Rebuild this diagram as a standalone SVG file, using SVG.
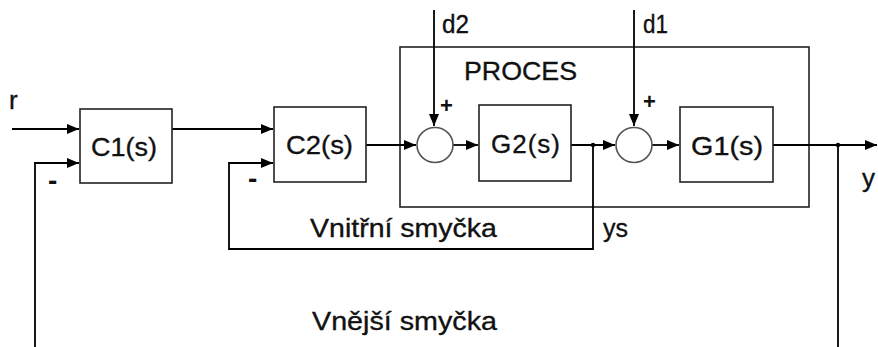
<svg xmlns="http://www.w3.org/2000/svg" width="878" height="347" viewBox="0 0 878 347">
<style>
text{font-family:"Liberation Sans",Arial,sans-serif;fill:#111;}
.lbl{font-size:26px;stroke:#111;stroke-width:0.35;}
.sign{font-size:22px;font-weight:bold;}
.blk{fill:#fff;stroke:#222;stroke-width:1.6;}
.sum{fill:#fff;stroke:#555;stroke-width:1.6;}
.ln{fill:none;stroke:#000;stroke-width:1.8;}
.arr{marker-end:url(#ah);}
</style>
<defs>
<marker id="ah" markerUnits="userSpaceOnUse" markerWidth="13" markerHeight="11" refX="12" refY="5" orient="auto">
<path d="M0,0 L12,5 L0,10 z" fill="#000"/>
</marker>
</defs>
<rect width="878" height="347" fill="#fff"/>

<g id="proces">
<rect x="400" y="47" width="409" height="160" fill="none" stroke="#222" stroke-width="1.6"/>
<text class="lbl" x="464" y="80" textLength="113" lengthAdjust="spacingAndGlyphs">PROCES</text>
</g>

<g id="connectors">
<path class="ln arr" d="M12,129 H79"/>
<path class="ln arr" d="M35,347 V163 H79"/>
<path class="ln arr" d="M172,129 H273"/>
<path class="ln arr" d="M593,145 V249 H229 V163 H273"/>
<path class="ln arr" d="M366,145 H416"/>
<path class="ln arr" d="M434,10 V126"/>
<path class="ln arr" d="M453,145 H478"/>
<path class="ln arr" d="M571,145 H615"/>
<path class="ln arr" d="M634,10 V126"/>
<path class="ln arr" d="M652,145 H679"/>
<path class="ln arr" d="M773,145 H877"/>
<path class="ln" d="M838,145 V347"/>
<circle cx="593" cy="145" r="2.2" fill="#000"/>
<circle cx="838" cy="145" r="2.2" fill="#000"/>
</g>

<g id="C1">
<rect class="blk" x="80" y="109" width="92" height="74"/>
<text class="lbl" x="91" y="156" textLength="66" lengthAdjust="spacingAndGlyphs">C1(s)</text>
</g>
<g id="C2">
<rect class="blk" x="274" y="107" width="92" height="75"/>
<text class="lbl" x="286" y="154" textLength="67" lengthAdjust="spacingAndGlyphs">C2(s)</text>
</g>
<g id="sum1">
<ellipse class="sum" cx="435" cy="145" rx="18" ry="17.5"/>
</g>
<g id="G2">
<rect class="blk" x="479" y="105" width="92" height="76"/>
<text class="lbl" x="491" y="153" textLength="69" lengthAdjust="spacing">G2(s)</text>
</g>
<g id="sum2">
<ellipse class="sum" cx="634" cy="145" rx="18" ry="17.5"/>
</g>
<g id="G1">
<rect class="blk" x="680" y="107" width="93" height="75"/>
<text class="lbl" x="691" y="155" textLength="72" lengthAdjust="spacingAndGlyphs">G1(s)</text>
</g>

<g id="labels">
<text class="lbl" x="9" y="109">r</text>
<text class="lbl" x="442" y="33" textLength="27" lengthAdjust="spacingAndGlyphs">d2</text>
<text class="lbl" x="643" y="33" textLength="25" lengthAdjust="spacingAndGlyphs">d1</text>
<text class="sign" x="440" y="113">+</text>
<text class="sign" x="643" y="109">+</text>
<text class="sign" x="48" y="190" style="font-size:28px">-</text>
<text class="sign" x="248" y="188" style="font-size:28px">-</text>
<text class="lbl" x="862" y="187">y</text>
<text class="lbl" x="603" y="237" textLength="25" lengthAdjust="spacingAndGlyphs">ys</text>
<text class="lbl" x="310" y="237" textLength="187" lengthAdjust="spacingAndGlyphs">Vnitřní smyčka</text>
<text class="lbl" x="312" y="330" textLength="185" lengthAdjust="spacingAndGlyphs">Vnější smyčka</text>
</g>
</svg>
